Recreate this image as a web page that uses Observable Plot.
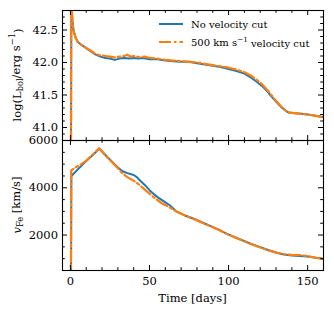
<!DOCTYPE html>
<html><head><meta charset="utf-8">
<script src="https://cdn.jsdelivr.net/npm/d3@7"></script>
<script src="https://cdn.jsdelivr.net/npm/@observablehq/plot@0.6"></script>
<style>
body{margin:0;background:#fff;}
#chart{width:334px;height:317px;position:relative;background:#fff;}
svg{display:block;overflow:visible;}
</style></head><body><div id="chart"></div>
<script>
// ---- Data ----
const lbolTimeNoCut = [0.3,0.6,1.2,2,3,4.5,7,10,13,16,19,22,25,28,31,34,37,40,43,46,50,55,60,65,70,75,80,85,90,95,100,105,110,114,118,121,124,127,130,133,136,138,142,146,150,155,160];
const lbolNoCut = [39.5,43.0,42.65,42.5,42.4,42.32,42.27,42.22,42.17,42.12,42.09,42.07,42.06,42.04,42.06,42.07,42.06,42.07,42.06,42.07,42.05,42.05,42.03,42.02,42.01,42.01,41.99,41.97,41.95,41.93,41.90,41.87,41.83,41.77,41.70,41.64,41.57,41.48,41.40,41.32,41.26,41.23,41.22,41.21,41.20,41.18,41.16];
const lbolTimeCut = [0.3,0.5,1.0,1.8,3,4.5,7,10,13,16,19,22,25,28,31,34,36,38,41,44,47,50,55,60,65,70,75,80,85,90,95,100,105,110,114,118,121,124,127,130,133,136,138,142,146,150,155,160];
const lbolCut = [39.5,43.2,42.75,42.5,42.4,42.32,42.27,42.22,42.18,42.13,42.11,42.10,42.09,42.08,42.09,42.10,42.12,42.09,42.10,42.08,42.09,42.07,42.06,42.04,42.03,42.02,42.01,42.0,41.98,41.96,41.94,41.92,41.89,41.85,41.80,41.73,41.67,41.59,41.50,41.41,41.33,41.26,41.23,41.22,41.21,41.20,41.18,41.15];

const vfeTimeNoCut = [0.4,0.6,5,10,15,18.2,22,26,30,33,36,40,42,44,47,50,53,56,60,63,67,72,78,83,88,94,99,104,109,114,120,125,130,135,140,145,150,155,160];
const vfeNoCut = [0,4500,4800,5130,5440,5660,5400,5120,4860,4700,4620,4540,4450,4310,4120,3900,3720,3560,3380,3250,3000,2840,2690,2540,2400,2220,2050,1910,1770,1630,1490,1370,1260,1180,1130,1110,1090,1040,990];
const vfeTimeCut = [0.3,0.5,3,6,10,14,18.2,22,26,30,33,36,40,44,47,50,54,58,62,67,72,78,83,88,94,99,104,109,114,120,125,130,135,140,145,150,155,160];
const vfeCut = [0,4730,4850,4960,5150,5400,5670,5380,5100,4830,4600,4450,4300,4110,3920,3750,3530,3330,3200,3000,2840,2680,2530,2390,2210,2040,1900,1760,1620,1470,1350,1250,1190,1160,1150,1110,1040,990];

const xMajor = [0,50,100,150];
const yTopMajor = [41.0,41.5,42.0,42.5];
const yBotMajor = [2000,4000,6000];
const seriesNames = ["No velocity cut", "500 km s\u207B\u00B9 velocity cut"];

// ---- Styling ----
const FONT = "'DejaVu Serif', serif";
const BLUE = "#1f77b4", ORANGE = "#ff7f0e";
const DASH = "12,3,2.5,3";
const W = 334, ML = 62, MR = 11, PH = 130;
const FS = 11.5;
const xDomain = [-5, 160];
const xMinor = d3.range(0, 161, 10).filter(v => !xMajor.includes(v));

function toRows(ts, vs){ return ts.map((t,i)=>({t, v: vs[i]})); }

function tickMarks(yMinor, yMajorArr){
  const P = W - ML - MR;
  const common = {stroke:"black", strokeWidth:1};
  return [
    Plot.tickX(xMajor, {x:d=>d, insetTop: PH-5, ...common}),
    Plot.tickX(xMajor, {x:d=>d, insetBottom: PH-5, ...common}),
    Plot.tickX(xMinor, {x:d=>d, insetTop: PH-2.8, ...common}),
    Plot.tickX(xMinor, {x:d=>d, insetBottom: PH-2.8, ...common}),
    Plot.tickY(yMajorArr, {y:d=>d, insetRight: P-5, ...common}),
    Plot.tickY(yMajorArr, {y:d=>d, insetLeft: P-5, ...common}),
    Plot.tickY(yMinor, {y:d=>d, insetRight: P-2.8, ...common}),
    Plot.tickY(yMinor, {y:d=>d, insetLeft: P-2.8, ...common})
  ];
}

const topMinor = d3.range(408, 429, 1).map(v=>v/10).filter(v => !yTopMajor.some(m=>Math.abs(m-v)<1e-9));
const botMinor = d3.range(500, 6001, 500).filter(v => !yBotMajor.includes(v));

const topPanel = Plot.plot({
  width: W, height: 140, marginTop: 10, marginBottom: 0, marginLeft: ML, marginRight: MR,
  style: {background: "transparent", overflow: "visible", color: "black", fontFamily: FONT},
  x: {domain: xDomain, axis: null},
  y: {domain: [40.8, 42.8], axis: null},
  marks: [
    Plot.line(toRows(lbolTimeNoCut, lbolNoCut), {x:"t", y:"v", stroke: BLUE, strokeWidth: 2, clip: true}),
    Plot.line(toRows(lbolTimeCut, lbolCut), {x:"t", y:"v", stroke: ORANGE, strokeWidth: 2.2, strokeDasharray: DASH, clip: true}),
    ...tickMarks(topMinor, yTopMajor),
    Plot.axisY(yTopMajor, {anchor:"left", tickSize:0, tickPadding:4.5, tickFormat: d3.format(".1f"), fontSize: FS, label: null}),
    Plot.frame({stroke:"black", strokeWidth:1.1})
  ]
});

const bottomPanel = Plot.plot({
  width: W, height: 177, marginTop: 0, marginBottom: 47, marginLeft: ML, marginRight: MR,
  style: {background: "transparent", overflow: "visible", color: "black", fontFamily: FONT},
  x: {domain: xDomain},
  y: {domain: [500, 6000]},
  marks: [
    Plot.line(toRows(vfeTimeNoCut, vfeNoCut), {x:"t", y:"v", stroke: BLUE, strokeWidth: 2, clip: true}),
    Plot.line(toRows(vfeTimeCut, vfeCut), {x:"t", y:"v", stroke: ORANGE, strokeWidth: 2.2, strokeDasharray: DASH, clip: true}),
    ...tickMarks(botMinor, yBotMajor),
    Plot.axisX(xMajor, {anchor:"bottom", tickSize:0, tickPadding:6, fontSize: FS, label: null}),
    Plot.axisY(yBotMajor, {anchor:"left", tickSize:0, tickPadding:4.5, tickFormat: d3.format("d"), fontSize: FS, label: null}),
    Plot.frame({stroke:"black", strokeWidth:1.1})
  ]
});

const chart = document.getElementById("chart");
chart.appendChild(topPanel);
chart.appendChild(bottomPanel);

// ---- Axis labels with sub/superscripts ----
const ts = d3.select(topPanel);
const tl = ts.append("text")
  .attr("transform", "translate(21,75) rotate(-90)")
  .attr("text-anchor", "middle").attr("font-size", FS).attr("fill", "black");
tl.append("tspan").text("log(L");
tl.append("tspan").attr("dy", "0.3em").attr("font-size", FS*0.72).text("bol");
tl.append("tspan").attr("dy", "-0.3em").text("/erg s");
tl.append("tspan").attr("dy", "-0.55em").attr("font-size", FS*0.72).text("\u22121");
tl.append("tspan").attr("dy", "0.55em").text(")");

const bs = d3.select(bottomPanel);
const bl = bs.append("text")
  .attr("transform", "translate(21,65) rotate(-90)")
  .attr("text-anchor", "middle").attr("font-size", FS).attr("fill", "black");
bl.append("tspan").attr("font-style", "italic").text("v");
bl.append("tspan").attr("dy", "0.3em").attr("font-size", FS*0.72).text("Fe");
bl.append("tspan").attr("dy", "-0.3em").text(" [km/s]");

bs.append("text").attr("x", (ML + W - MR)/2).attr("y", 162)
  .attr("text-anchor", "middle").attr("font-size", FS).attr("fill", "black")
  .text("Time [days]");

// ---- Legend ----
const LFS = 10;
const leg = ts.append("g");
[[BLUE, null, 24, 2], [ORANGE, DASH, 42, 2.2]].forEach(([c, dash, y, w], i) => {
  const ln = leg.append("line").attr("x1", 159).attr("x2", 183).attr("y1", y).attr("y2", y)
    .attr("stroke", c).attr("stroke-width", w);
  if (dash) ln.attr("stroke-dasharray", dash);
  const t = leg.append("text").attr("x", 191).attr("y", y + 3.5).attr("text-anchor", "start")
    .attr("font-size", LFS).attr("fill", "black");
  if (i === 0) t.text(seriesNames[0]);
  else {
    t.append("tspan").text("500 km s");
    t.append("tspan").attr("dy", "-0.45em").attr("font-size", LFS*0.72).text("\u22121");
    t.append("tspan").attr("dy", "0.45em").text(" velocity cut");
  }
});

// force serif font on every text element
[topPanel, bottomPanel].forEach(svg => {
  svg.setAttribute("font-family", FONT);
  d3.select(svg).selectAll("g, text, tspan").each(function(){
    this.setAttribute("font-family", FONT);
    this.style.setProperty("font-family", FONT, "important");
  });
});
</script>
</body></html>
